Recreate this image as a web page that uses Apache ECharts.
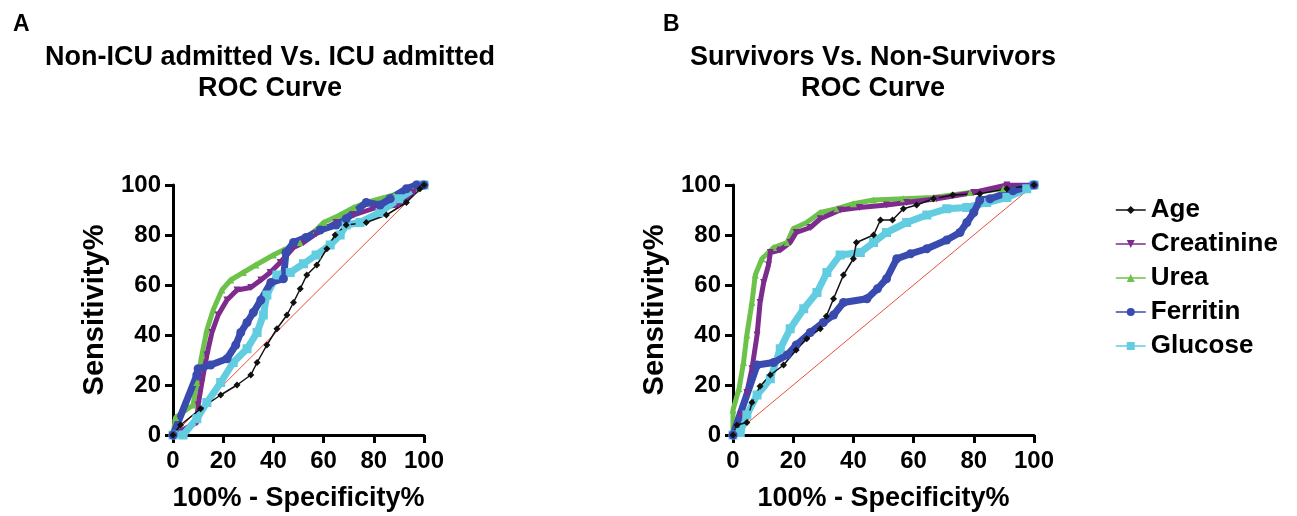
<!DOCTYPE html>
<html>
<head>
<meta charset="utf-8">
<script src="https://cdn.jsdelivr.net/npm/echarts@6/dist/echarts.min.js"></script>
<style>
  html, body { margin: 0; padding: 0; background: #fff; }
  #main { width: 1297px; height: 516px; }
</style>
</head>
<body>
<div id="main"></div>
<script>
// series names
const names = ["Age", "Creatinine", "Urea", "Ferritin", "Glucose"];
const ticks = [0, 20, 40, 60, 80, 100];

// Panel A: Non-ICU admitted vs ICU admitted  ([100-spec, sens])
const ageA = [[0,0],[3,4],[11,10.5],[19,16],[25.5,20],[31,24],[33.5,29],[37.4,36],[41.4,42.5],[45.4,48],[48,53],[50.7,58.5],[53.3,64],[57.3,68],[61.3,74.5],[64.6,80],[69,84],[77,85],[85,88],[93,93],[98.4,98.5],[100,100]];
const creatA = [[0,0],[9.5,5],[10,12],[11.5,21],[13.5,32],[15.5,41],[18,48],[21.5,54],[25.5,58],[31,59],[35,62],[38.7,65],[42.7,69],[48,75],[52,77],[57,80.5],[65,85],[72,88],[81,91],[90,92],[96,97],[100,100]];
const ureaA = [[0,0],[1,7],[8,12],[9.5,21],[11.5,32],[13.5,42],[16,50],[19.5,58],[23,62],[28,65],[33,68],[40,72],[44,74],[50.7,77],[57,82],[60,85],[66.5,88],[72,91],[77,93],[88,96],[96,98.5],[100,100]];
const ferrA = [[0,0],[9.5,24],[10,26.5],[15,28],[21.5,30.5],[25,36],[27,41],[29.5,45],[32,49],[35,54],[39,61],[44,62.5],[45,73],[48,77],[53,79],[58.6,82],[65,84],[69,86.5],[77,93],[82.5,92],[86.5,94.5],[93,98.5],[97,100],[100,100]];
const glucA = [[0,0],[4,0],[9.5,6.5],[13.5,13],[19,21],[24,29],[29.5,34.5],[33.5,41],[36,48],[37.4,56],[41.4,64],[46.7,65],[52,68.5],[57,72],[62.6,76],[66.6,80],[69,84],[74.5,85],[82.5,89],[90,94.5],[98.4,100],[100,100]];

// Panel B: Survivors vs Non-Survivors
const ageB = [[0,0],[1.3,4],[4.6,5],[6.3,13],[9,19.5],[12.4,24],[16.8,28],[21,34],[24.5,38.5],[29,42.5],[31,47.5],[33.4,54.5],[36.7,64],[40,70.5],[41,77],[46.7,80],[49,86],[53,86],[56.6,90.5],[61,92],[66.6,94.5],[73,96],[82,96.5],[91,98.5],[100,100]];
const creatB = [[0,0],[2.4,8],[4.6,17],[6.3,26.5],[8,40],[9,53],[10.2,61],[11.8,68],[12.4,73],[15.7,74],[19,77],[21,81],[25.7,83],[29,86.5],[35.6,90],[42,91],[51,92],[57.7,93],[67.7,94.5],[80,97],[91,100],[100,100]];
const ureaB = [[0,0],[0,10],[2,18.5],[3.5,29],[4.6,40],[6.3,53],[7.4,64],[9.6,70.5],[13.5,75],[18,77],[20,82.5],[24.5,85],[29,89],[34.5,90.5],[40,92.5],[46.7,94],[56.6,94.5],[66.6,95],[78.8,97],[89.8,98.5],[100,100]];
const ferrB = [[0,0],[8,28],[13.5,29],[18,32],[21,36],[25.7,41],[30,45],[33.4,48],[36.7,53],[44.5,54.5],[48,58.5],[51,62.5],[54.4,70.5],[59,72.5],[64.4,74.5],[71,78],[75.4,81],[77.7,85],[80,89],[82,94],[85.4,94.5],[93,97.7],[100,100]];
const glucB = [[0,0],[2.4,1],[4.6,8],[8,16],[12.4,22.5],[15.7,34.5],[19,42.5],[23.5,50.5],[27.9,57],[31.2,65],[35.6,72],[42.3,73],[46.7,77],[51,81],[57.7,85],[64.4,88],[71,90.5],[77.7,91],[84.3,93],[91,95],[97.6,98.5],[100,100]];

const diagonal = [[0,0],[100,100]];

const FONT = "Liberation Sans, Arial, Helvetica, sans-serif";
const colors = {
  Age: "#111111",
  Creatinine: "#7e2b8e",
  Urea: "#6cc24a",
  Ferritin: "#3a4bb0",
  Glucose: "#62cde0"
};
const symbols = {
  Age: "diamond",
  Creatinine: "path://M0,0 L10,0 L5,9 Z",
  Urea: "triangle",
  Ferritin: "circle",
  Glucose: "rect"
};
const widths = { Age: 1.5, Creatinine: 5, Urea: 5, Ferritin: 7, Glucose: 7 };
const sizes = { Age: 7, Creatinine: 7, Urea: 7, Ferritin: 9, Glucose: 9 };

const chart = echarts.init(document.getElementById("main"));

function xAxis(idx) {
  return {
    gridIndex: idx, type: "value", min: 0, max: 100, interval: 20,
    name: "100% - Specificity%", nameLocation: "middle", nameGap: 50,
    nameTextStyle: { fontFamily: FONT, fontWeight: "bold", fontSize: 27, color: "#000" },
    axisLine: { lineStyle: { color: "#000", width: 3 } },
    axisTick: { length: 8, lineStyle: { color: "#000", width: 3 } },
    axisLabel: { fontFamily: FONT, fontWeight: "bold", fontSize: 24, color: "#000", margin: 14 },
    splitLine: { show: false }
  };
}
function yAxis(idx) {
  return {
    gridIndex: idx, type: "value", min: 0, max: 100, interval: 20,
    name: "Sensitivity%", nameLocation: "middle", nameGap: 64, nameRotate: 90,
    nameTextStyle: { fontFamily: FONT, fontWeight: "bold", fontSize: 29, color: "#000" },
    axisLine: { lineStyle: { color: "#000", width: 3 } },
    axisTick: { length: 8, lineStyle: { color: "#000", width: 3 } },
    axisLabel: { fontFamily: FONT, fontWeight: "bold", fontSize: 24, color: "#000", margin: 12 },
    splitLine: { show: false }
  };
}

function panelSeries(idx, sets) {
  const list = [{
    type: "line", xAxisIndex: idx, yAxisIndex: idx, data: diagonal,
    symbol: "none", silent: true, z: 1,
    lineStyle: { color: "#e8503a", width: 1 }
  }];
  // draw order roughly like the original
  ["Urea", "Creatinine", "Glucose", "Ferritin", "Age"].forEach(n => {
    list.push({
      name: n, type: "line", xAxisIndex: idx, yAxisIndex: idx,
      data: sets[n], symbol: symbols[n], symbolSize: sizes[n], showAllSymbol: true,
      color: colors[n],
      lineStyle: { color: colors[n], width: widths[n] },
      itemStyle: { color: colors[n] },
      z: 2
    });
  });
  return list;
}

const option = {
  animation: false,
  backgroundColor: "#fff",
  title: [
    { text: "A", left: 8, top: 8, textStyle: { fontFamily: FONT, fontWeight: "bold", fontSize: 23, color: "#000" } },
    { text: "Non-ICU admitted Vs. ICU admitted\nROC Curve", left: 265, top: 37, textAlign: "center",
      textStyle: { fontFamily: FONT, fontWeight: "bold", fontSize: 27, lineHeight: 31, color: "#000" } },
    { text: "B", left: 658, top: 8, textStyle: { fontFamily: FONT, fontWeight: "bold", fontSize: 23, color: "#000" } },
    { text: "Survivors Vs. Non-Survivors\nROC Curve", left: 868, top: 37, textAlign: "center",
      textStyle: { fontFamily: FONT, fontWeight: "bold", fontSize: 27, lineHeight: 31, color: "#000" } }
  ],
  legend: {
    data: names, orient: "vertical", left: 1110, top: 192,
    itemWidth: 30, itemHeight: 10, itemGap: 8,
    lineStyle: { width: 1.5 },
    textStyle: { fontFamily: FONT, fontWeight: "bold", fontSize: 26, color: "#000" }
  },
  grid: [
    { left: 173, top: 185, width: 251, height: 250 },
    { left: 733, top: 185, width: 301, height: 250 }
  ],
  xAxis: [xAxis(0), xAxis(1)],
  yAxis: [yAxis(0), yAxis(1)],
  series: [
    ...panelSeries(0, { Age: ageA, Creatinine: creatA, Urea: ureaA, Ferritin: ferrA, Glucose: glucA }),
    ...panelSeries(1, { Age: ageB, Creatinine: creatB, Urea: ureaB, Ferritin: ferrB, Glucose: glucB })
  ]
};

chart.setOption(option);
</script>
</body>
</html>
